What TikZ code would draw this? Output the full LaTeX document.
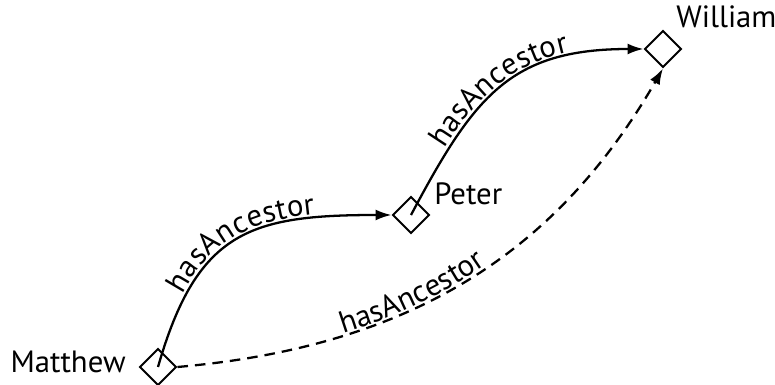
\documentclass[tikz,border=0pt]{standalone}
\usepackage{fontspec}
\setmainfont{PT Sans}
\usetikzlibrary{shapes.geometric,arrows.meta,decorations.text,positioning}
\tikzset{
  individual/.style = {draw, diamond, aspect=1, minimum size=0.74cm, inner sep=0pt, line width=1.1pt},
  person/.style = {font=\fontsize{17.5}{21}\selectfont, inner sep=0pt},
  relation/.style = {line width=1.3pt, -{Latex[length=0.32cm,width=0.22cm]}},
  relname/.style = {postaction={decorate, decoration={text along path, text align=center, raise=2pt,
    text={|\fontsize{17.5}{21}\selectfont|hasAncestor}}}},
  inferred/.style = {postaction={decorate, decoration={text along path, text align={align=left, left indent=3.4cm}, raise=1pt,
    text={|\fontsize{17.5}{21}\selectfont|hasAncestor}}}}
}
\begin{document}
\begin{tikzpicture}[x = 0.02cm, y = 0.02cm]
\useasboundingbox (0,0) rectangle (775,385);
\node[individual] (Matthew) at (158,18) {};
\node[individual] (Peter) at (411,170) {};
\node[individual] (William) at (663,336) {};
\node[person, anchor = base east] (MatthewName) at (126,12) {Matthew};
\node[person, anchor = base west] (PeterName) at (434,180) {Peter};
\node[person, anchor = base west] (WilliamName) at (676,357) {William};
\draw[relation, relname] (Matthew.center) to[out = 74, in = 180, looseness = 1.3] (Peter.west);
\draw[relation, relname] (Peter.center) to[out = 62, in = 180, looseness = 1.2] (William.west);
\draw[relation, inferred, dash pattern = on 6pt off 4pt] (Matthew.east) to[out = 5, in = 240] (William.south);
\end{tikzpicture}
\end{document}
